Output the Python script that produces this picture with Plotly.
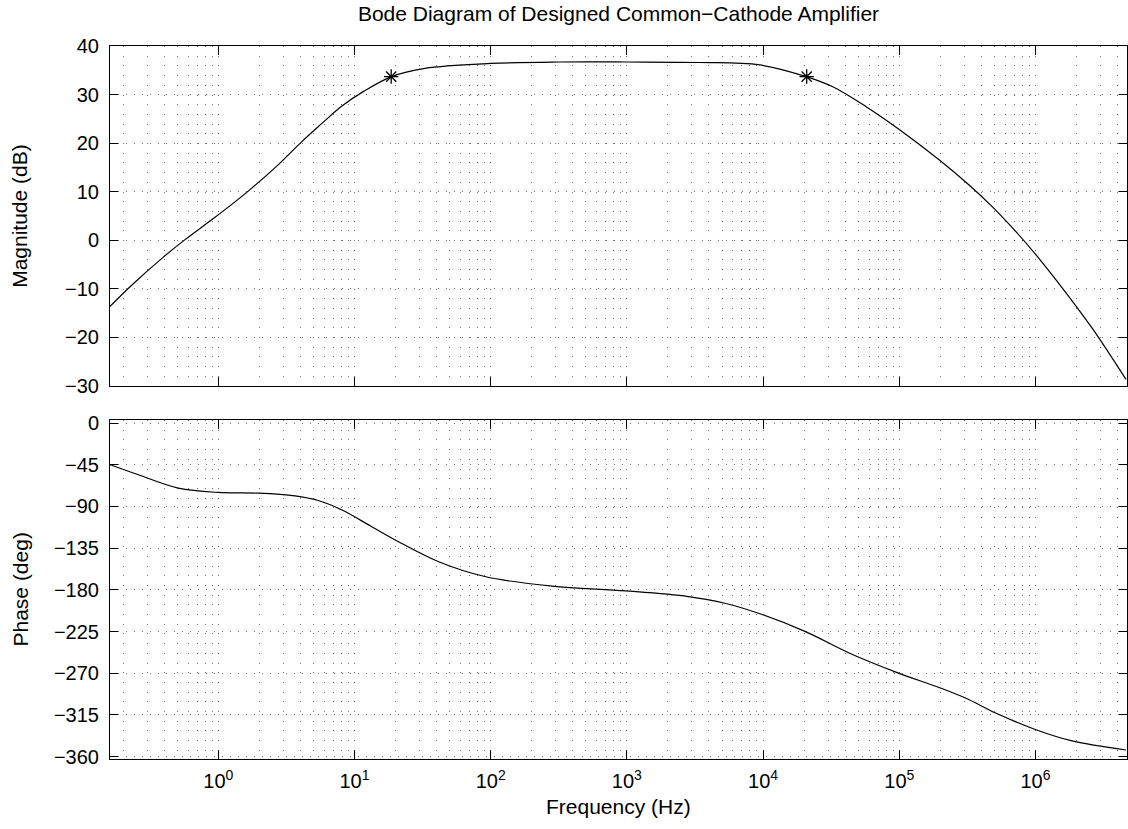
import plotly.graph_objects as go

# ---- data ----
mag_freq = [0.160, 0.225, 0.395, 0.570, 0.946, 1.66, 2.75, 4.07, 5.74, 8.04, 11.6, 18.7,
            32.9, 100, 316, 1000, 3420, 9420, 20700, 32500, 57100, 100000, 197000,
            327000, 485000, 721000, 1.07e6, 1.67e6, 2.63e6, 4.62e6]
mag_db = [-13.7, -9.6, -3.5, 0.1, 4.7, 10.1, 15.5, 20.2, 24.0, 27.6, 30.6, 33.7,
          35.4, 36.4, 36.7, 36.7, 36.6, 36.1, 33.7, 31.6, 27.5, 22.8, 16.5,
          11.3, 6.8, 1.7, -3.9, -10.8, -18.3, -28.7]

phase_freq = [0.161, 0.259, 0.509, 1.0, 1.96, 3.66, 5.42, 8.04, 13.3, 20.9, 41.1, 90.6,
              282, 982, 2820, 5240, 9730, 20500, 43200, 96600, 203000, 309000,
              515000, 1.02e6, 1.86e6, 4.62e6]
phase_deg = [-45.0, -55.8, -70.2, -74.9, -75.6, -78.5, -83.6, -93.6, -111.6, -127.8,
             -149.4, -165.6, -176.0, -181.1, -187.2, -194.4, -206.3, -225.1, -248.4,
             -269.3, -286.2, -297.0, -313.2, -331.2, -343.0, -352.8]

marker_freq = [18.6, 20900]
marker_db = [33.7, 33.7]

x_tick_exponents = [0, 1, 2, 3, 4, 5, 6]
mag_ticks = [40, 30, 20, 10, 0, -10, -20, -30]
phase_ticks = [0, -45, -90, -135, -180, -225, -270, -315, -360]

title_text = "Bode Diagram of Designed Common\u2212Cathode Amplifier"
x_title = "Frequency (Hz)"
mag_title = "Magnitude (dB)"
phase_title = "Phase (deg)"

# ---- styling ----
FONT = "Liberation Sans, Arial, Helvetica, sans-serif"
TICK_SIZE = 20
LABEL_SIZE = 21
VGRID_DASH = "1px,8.7px"
HGRID_DASH = "1px,7px"
GRID_COLOR = "rgba(0,0,0,0.55)"

x_tickvals = [10 ** e for e in x_tick_exponents]
x_ticktext = ["10<sup>%d</sup>" % e for e in x_tick_exponents]
x_minor_vals = [m * 10 ** e for e in range(-1, 7) for m in range(2, 10)]


def fmt(v):
    return ("\u2212%d" % -v) if v < 0 else str(v)


W, H = 1128, 829
ML, MR, MT, MB = 110, 1, 46, 70
plot_w = W - ML - MR
plot_h = H - MT - MB
top_dom = [1 - (385.7 - MT) / plot_h, 1.0]
bot_dom = [0.0, 1 - (420 - MT) / plot_h]

fig = go.Figure()
fig.add_trace(go.Scatter(x=mag_freq, y=mag_db, mode="lines",
                         line=dict(color="black", width=1.2, shape="spline", smoothing=1.0),
                         xaxis="x", yaxis="y", showlegend=False, hoverinfo="skip"))
fig.add_trace(go.Scatter(x=marker_freq, y=marker_db, mode="markers",
                         marker=dict(symbol="asterisk-open", size=12, color="black",
                                     line=dict(color="black", width=1.3)),
                         xaxis="x", yaxis="y", showlegend=False, hoverinfo="skip"))
fig.add_trace(go.Scatter(x=phase_freq, y=phase_deg, mode="lines",
                         line=dict(color="black", width=1.2, shape="spline", smoothing=1.0),
                         xaxis="x2", yaxis="y2", showlegend=False, hoverinfo="skip"))

common_x = dict(type="log", range=[-0.795, 6.672], tickmode="array",
                tickvals=x_tickvals, ticktext=x_ticktext,
                ticks="inside", ticklen=9, tickcolor="black", tickwidth=1,
                showline=True, linecolor="black", linewidth=1, mirror="allticks",
                showgrid=True, gridcolor=GRID_COLOR, griddash=VGRID_DASH, gridwidth=1,
                minor=dict(tickmode="array", tickvals=x_minor_vals, showgrid=True,
                           gridcolor=GRID_COLOR, griddash=VGRID_DASH, gridwidth=1,
                           ticks=""),
                zeroline=False, ticklabelstandoff=4,
                tickfont=dict(family=FONT, size=TICK_SIZE, color="black"))

common_y = dict(tickmode="array", ticks="inside", ticklen=8, tickcolor="black", tickwidth=1,
                showline=True, linecolor="black", linewidth=1, mirror="allticks",
                showgrid=True, gridcolor=GRID_COLOR, griddash=HGRID_DASH, gridwidth=1,
                zeroline=False, ticklabelstandoff=6,
                tickfont=dict(family=FONT, size=TICK_SIZE, color="black"))

fig.update_layout(
    width=W, height=H,
    margin=dict(l=ML, r=MR, t=MT, b=MB),
    paper_bgcolor="white", plot_bgcolor="white",
    font=dict(family=FONT, color="black"),
    title=dict(text=title_text, x=(ML + plot_w / 2) / W, xanchor="center",
               y=1 - 14 / H, yanchor="middle", yref="container",
               font=dict(family=FONT, size=LABEL_SIZE, color="black")),
    xaxis=dict(common_x, domain=[0, 1], anchor="y", showticklabels=False),
    xaxis2=dict(common_x, domain=[0, 1], anchor="y2", matches="x"),
    yaxis=dict(common_y, domain=top_dom, anchor="x", range=[-30, 40],
               tickvals=mag_ticks, ticktext=[fmt(v) for v in mag_ticks]),
    yaxis2=dict(common_y, domain=bot_dom, anchor="x2", range=[-362.5, 3.3],
                tickvals=phase_ticks, ticktext=[fmt(v) for v in phase_ticks]),
    annotations=[
        dict(text=mag_title, xref="paper", yref="y domain", x=(20 - ML) / plot_w,
             y=0.5, xanchor="center", yanchor="middle", textangle=-90, showarrow=False,
             font=dict(family=FONT, size=LABEL_SIZE, color="black")),
        dict(text=phase_title, xref="paper", yref="y2 domain", x=(20 - ML) / plot_w,
             y=0.5, xanchor="center", yanchor="middle", textangle=-90, showarrow=False,
             font=dict(family=FONT, size=LABEL_SIZE, color="black")),
        dict(text=x_title, xref="paper", yref="paper", x=0.5, y=-(806 - (H - MB)) / plot_h,
             xanchor="center", yanchor="middle", showarrow=False,
             font=dict(family=FONT, size=LABEL_SIZE, color="black")),
    ],
)

fig.write_html("out.html")
